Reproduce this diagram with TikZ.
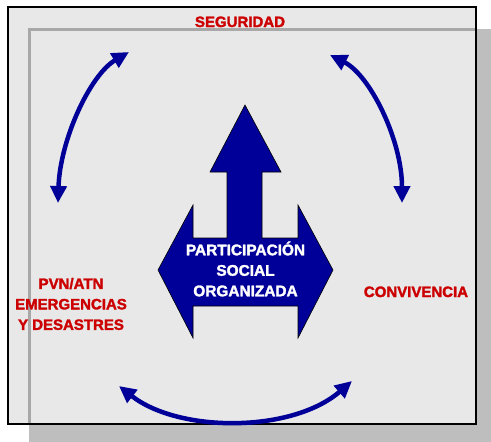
\documentclass[tikz,border=0pt]{standalone}
\usepackage{fontspec}
\setmainfont{Liberation Sans}
\newfontfamily\boldsans{Liberation Sans}[UprightFont={* Bold}, FakeBold=2]
\usetikzlibrary{arrows.meta}
\definecolor{navy}{RGB}{0,0,153}
\definecolor{labelred}{RGB}{204,0,0}
\definecolor{paper}{RGB}{232,232,232}
\definecolor{shadowgray}{RGB}{190,190,190}
\definecolor{shadowline}{RGB}{168,168,168}
\tikzset{
 redlabel/.style={text=labelred, font=\boldsans\bfseries\fontsize{15}{20.5}\selectfont, align=center, inner sep=0pt},
 centertext/.style={text=white, font=\boldsans\bfseries\fontsize{15.4}{20.5}\selectfont, align=center, inner sep=0pt},
 cyclearrow/.style={draw=navy, line width=4.5pt, {Triangle[length=17pt,width=16pt]}-{Triangle[length=17pt,width=16pt]}},
 bigarrow/.style={fill=navy, draw=black, line width=0.6pt, line join=miter},
}
\begin{document}
\begin{tikzpicture}[x=1pt,y=-1pt]
\useasboundingbox (0,0) rectangle (491,442);
\fill[white] (0,0) rectangle (491,442);
\fill[shadowgray] (29,29) rectangle (491,442);
\fill[paper] (8,7) rectangle (476,424);
\draw[shadowline, line width=3pt] (29,424) -- (29,29) -- (476,29);
\draw[black, line width=2pt] (8,7) rectangle (476,424);

% central three-headed arrow
\draw[bigarrow] (245,105) -- (281,172) -- (262,172) -- (262,238) -- (298,238) -- (298,205)
  -- (333,270) -- (298,338) -- (298,306) -- (193,306) -- (193,338) -- (158,270)
  -- (193,205) -- (193,238) -- (227,238) -- (227,172) -- (210,172) -- cycle;
\node[centertext] (core) at (245.5,269) {PARTICIPACIÓN\\SOCIAL\\ORGANIZADA};

% labels
\node[redlabel, anchor=base] (seg) at (240,27) {SEGURIDAD};
\node[redlabel, anchor=base] (conv) at (416,297) {CONVIVENCIA};
\node[redlabel] (pvn) at (71,304) {PVN/ATN\\EMERGENCIAS\\Y DESASTRES};

% cycle arrows
\coordinate (la) at (58,203);
\coordinate (lb) at (129,52);
\coordinate (ra) at (330,55);
\coordinate (rb) at (402,203);
\coordinate (ba) at (119,386);
\coordinate (bb) at (352,381);
\draw[cyclearrow] (la) .. controls (60,140) and (90,75) .. (lb);
\draw[cyclearrow] (ra) .. controls (370,75) and (402,140) .. (rb);
\draw[cyclearrow] (ba) .. controls (179,433) and (292,433) .. (bb);
\end{tikzpicture}
\end{document}
